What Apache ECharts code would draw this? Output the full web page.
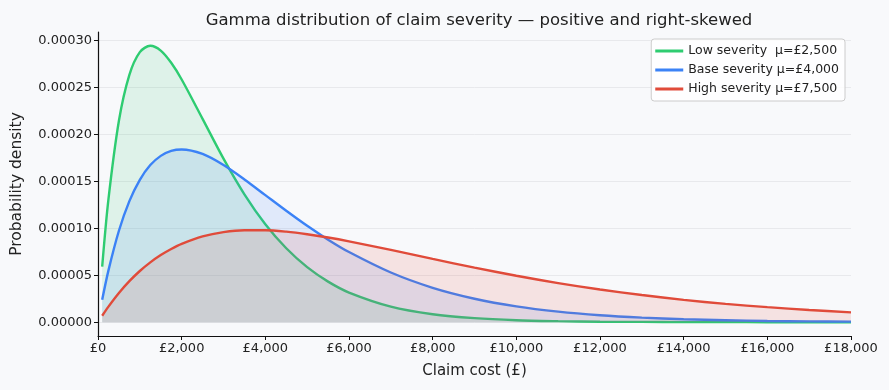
<!DOCTYPE html>
<html lang="en">
<head>
<meta charset="UTF-8">
<title>Gamma claim severity</title>
<script src="https://cdn.jsdelivr.net/npm/echarts@6.0.0/dist/echarts.min.js"></script>
<style>
  html, body { margin: 0; padding: 0; background: #f8f9fb; }
  #chart { width: 889px; height: 390px; }
</style>
</head>
<body>
<div id="chart"></div>
<script>
    // claim cost (£) sample points
    const claimCost = [100, 250, 500, 750, 1000, 1250, 1500, 1750, 2000,
        2500, 3000, 3500, 4000, 4500, 5000, 5500, 6000,
        7000, 8000, 9000, 10000, 11000, 12000, 13000, 14000, 15000, 16000, 17000, 18000];

    // density
    const lowSeverity = [5.91e-5, 1.310e-4, 2.145e-4, 2.634e-4, 2.876e-4, 2.943e-4, 2.892e-4, 2.762e-4, 2.584e-4,
        2.165e-4, 1.742e-4, 1.362e-4, 1.043e-4, 7.87e-5, 5.86e-5, 4.32e-5, 3.16e-5,
        1.66e-5, 8.5e-6, 4.3e-6, 2.1e-6, 1.1e-6, 5e-7, 3e-7, 1e-7, 1e-7, 0, 0, 0];
    const baseSeverity = [2.38e-5, 5.52e-5, 9.74e-5, 1.289e-4, 1.516e-4, 1.673e-4, 1.771e-4, 1.824e-4, 1.839e-4,
        1.791e-4, 1.673e-4, 1.520e-4, 1.353e-4, 1.186e-4, 1.026e-4, 8.79e-5, 7.47e-5,
        5.29e-5, 3.66e-5, 2.50e-5, 1.68e-5, 1.12e-5, 7.4e-6, 4.9e-6, 3.2e-6, 2.1e-6, 1.3e-6, 9e-7, 6e-7];
    const highSeverity = [6.9e-6, 1.66e-5, 3.11e-5, 4.37e-5, 5.45e-5, 6.37e-5, 7.15e-5, 7.80e-5, 8.34e-5,
        9.13e-5, 9.59e-5, 9.79e-5, 9.79e-5, 9.64e-5, 9.37e-5, 9.02e-5, 8.61e-5,
        7.70e-5, 6.74e-5, 5.81e-5, 4.94e-5, 4.16e-5, 3.48e-5, 2.89e-5, 2.38e-5, 1.95e-5, 1.60e-5, 1.30e-5, 1.05e-5];

    const seriesNames = ['Low severity  \u03bc=\u00a32,500', 'Base severity \u03bc=\u00a34,000', 'High severity \u03bc=\u00a37,500'];
    const seriesColors = ['#2ecc71', '#3b82f6', '#e04b3a'];
    const yTicks = [0, 0.00005, 0.0001, 0.00015, 0.0002, 0.00025, 0.0003];

    const FONT = 'DejaVu Sans';

    function makeSeries(idx, values) {
        return {
            name: seriesNames[idx],
            type: 'line',
            data: claimCost.map((x, i) => [x, values[i]]),
            smooth: 0.3,
            showSymbol: false,
            symbol: 'none',
            lineStyle: { width: 2.4, color: seriesColors[idx] },
            itemStyle: { color: seriesColors[idx] },
            areaStyle: { color: seriesColors[idx], opacity: 0.13 },
            z: 2 + idx
        };
    }

    const chart = echarts.init(document.getElementById('chart'));
    chart.setOption({
        backgroundColor: '#f8f9fb',
        animation: false,
        title: {
            text: 'Gamma distribution of claim severity \u2014 positive and right-skewed',
            left: 474,
            top: 7,
            textAlign: 'center',
            textStyle: { fontFamily: FONT, fontSize: 16.5, fontWeight: 'normal', color: '#222' }
        },
        legend: {
            orient: 'vertical',
            right: 44,
            top: 39,
            data: seriesNames,
            icon: 'rect',
            itemWidth: 28,
            itemHeight: 3,
            itemGap: 5,
            padding: [5, 6, 5, 4],
            borderColor: '#cccccc',
            borderWidth: 1,
            borderRadius: 3,
            backgroundColor: 'rgba(255,255,255,0.85)',
            textStyle: { fontFamily: FONT, fontSize: 12.5, color: '#222', lineHeight: 14 }
        },
        grid: { left: 98, right: 38, top: 32, bottom: 54 },
        xAxis: {
            type: 'value',
            min: 0,
            max: 18000,
            interval: 2000,
            name: 'Claim cost (\u00a3)',
            nameLocation: 'middle',
            nameGap: 28,
            nameTextStyle: { fontFamily: FONT, fontSize: 15, color: '#222' },
            axisLine: { onZero: false, lineStyle: { color: '#111', width: 1.2 } },
            axisTick: { length: 4, lineStyle: { color: '#111' } },
            axisLabel: {
                fontFamily: FONT, fontSize: 13, color: '#222', margin: 6,
                formatter: v => '\u00a3' + v.toLocaleString('en-GB')
            },
            splitLine: { show: false }
        },
        yAxis: {
            type: 'value',
            min: -0.0000147,
            max: 0.000309,
            name: 'Probability density',
            nameLocation: 'middle',
            nameGap: 73,
            nameTextStyle: { fontFamily: FONT, fontSize: 15.5, color: '#222' },
            axisLine: { show: true, lineStyle: { color: '#111', width: 1.2 } },
            axisTick: { show: true, length: 4, customValues: yTicks, lineStyle: { color: '#111' } },
            axisLabel: {
                fontFamily: FONT, fontSize: 13, color: '#222', margin: 6,
                customValues: yTicks,
                formatter: v => v.toFixed(5)
            },
            splitLine: { show: true, lineStyle: { color: '#e3e5e8', width: 0.8 } }
        },
        series: [
            makeSeries(0, lowSeverity),
            makeSeries(1, baseSeverity),
            makeSeries(2, highSeverity)
        ]
    });
</script>
</body>
</html>
